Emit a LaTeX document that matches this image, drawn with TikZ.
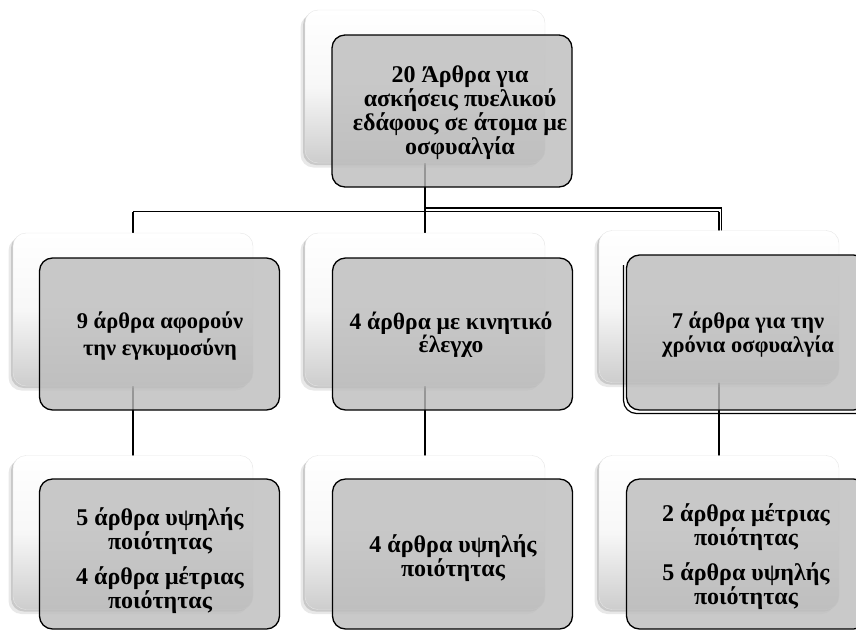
\documentclass[tikz,border=0pt]{standalone}
\usepackage{fontspec}
\setmainfont{Liberation Serif}
\usetikzlibrary{shadows,calc}
\definecolor{frontgray}{RGB}{188,188,188}
\definecolor{backbot}{RGB}{205,205,205}
\tikzset{
  backbox/.style={rounded corners=13pt, minimum width=240pt, minimum height=153pt,
    top color=white, bottom color=backbot, middle color=white!97!black,
    draw=gray!20, line width=0.4pt,
    drop shadow={shadow xshift=-2pt, shadow yshift=-2pt, opacity=0.30, fill=gray},
    drop shadow={shadow xshift=-4.5pt, shadow yshift=-4.5pt, opacity=0.18, fill=gray}},
  frontbox/.style={rounded corners=13pt, minimum width=240pt, minimum height=152pt,
    draw=black, line width=1.3pt, fill=frontgray, fill opacity=0.8},
  lbl/.style={align=center, inner sep=0pt},
  conn/.style={draw=black, line width=1.2pt},
}
\newcommand{\fs}[2]{\bfseries\fontsize{#1}{#2}\selectfont}
\begin{document}
\begin{tikzpicture}[x=1pt,y=-1pt]
\useasboundingbox (0,0) rectangle (856,630);
% coordinates for the bus
\coordinate (bus) at (0,211.5);
\coordinate (bustop) at (0,208);
% back boxes (positions)
\path (425,86.5) coordinate (t0c);
\path (133,309.5) coordinate (m0c) (425,309.5) coordinate (m1c) (719,306.5) coordinate (m2c);
\path (133,532.5) coordinate (b0c) (425,532.5) coordinate (b1c) (719,532.5) coordinate (b2c);
% connectors (behind boxes)
\draw[conn] (t0c) -- (t0c |- bus);
\draw[conn] (m0c |- bus) -- (m2c |- bus);
\draw[conn] ($(t0c |- bustop)$) -- ($(m2c |- bustop)+(2.5,0)$) -- ($(m2c)+(2.5,0)$);
\draw[conn] (m0c |- bus) -- (m0c);
\draw[conn] (m1c |- bus) -- (m1c);
\draw[conn] (m2c |- bus) -- (m2c);
\draw[conn] (m0c) -- (b0c);
\draw[conn] (m1c) -- (b1c);
\draw[conn] (m2c) -- (b2c);
% back boxes
\node[backbox] (t0) at (t0c) {};
\node[backbox] (m0) at (m0c) {};
\node[backbox] (m1) at (m1c) {};
\node[backbox, minimum height=152pt] (m2) at (m2c) {};
\node[backbox, minimum height=154pt] (b0) at (b0c) {};
\node[backbox, minimum height=154pt] (b1) at (b1c) {};
\node[backbox, minimum height=154pt] (b2) at (b2c) {};
% front boxes
\node[frontbox] (t1) at (452,111) {};
\node[frontbox] (m0f) at (159.5,334) {};
\node[frontbox] (m1f) at (452.5,334) {};
\draw[black, line width=1.2pt, rounded corners=13pt] (623.5,265) -- (623.5,413.5) -- (870,413.5);
\node[frontbox, minimum height=155pt] (m2f) at (746.5,332.5) {};
\node[frontbox, minimum height=150pt] (b0f) at (159.5,554) {};
\node[frontbox, minimum height=150pt] (b1f) at (452.5,554) {};
\node[frontbox, minimum height=150pt] (b2f) at (746.5,554) {};
% texts
\node[lbl, font=\fs{24}{22.5}] (t1t) at (460,113) {20 Άρθρα για\\ασκήσεις πυελικού\\εδάφους σε άτομα με\\οσφυαλγία};
\node[lbl, font=\fs{22.5}{27}] (m0t) at (160,336) {9 άρθρα αφορούν\\την εγκυμοσύνη};
\node[lbl, font=\fs{23.5}{23.5}] (m1t) at (451,335) {4 άρθρα με κινητικό\\έλεγχο};
\node[lbl, font=\fs{22.5}{24}] (m2t) at (748,335) {7 άρθρα για την\\χρόνια οσφυαλγία};
\node[lbl, font=\fs{24}{22}] (b0t) at (160,561) {5 άρθρα υψηλής\\ποιότητας\\[11pt]4 άρθρα μέτριας\\ποιότητας};
\node[lbl, font=\fs{24}{22}] (b1t) at (453,558) {4 άρθρα υψηλής\\ποιότητας};
\node[lbl, font=\fs{24}{22}] (b2t) at (746,557) {2 άρθρα μέτριας\\ποιότητας\\[11pt]5 άρθρα υψηλής\\ποιότητας};
\end{tikzpicture}
\end{document}
